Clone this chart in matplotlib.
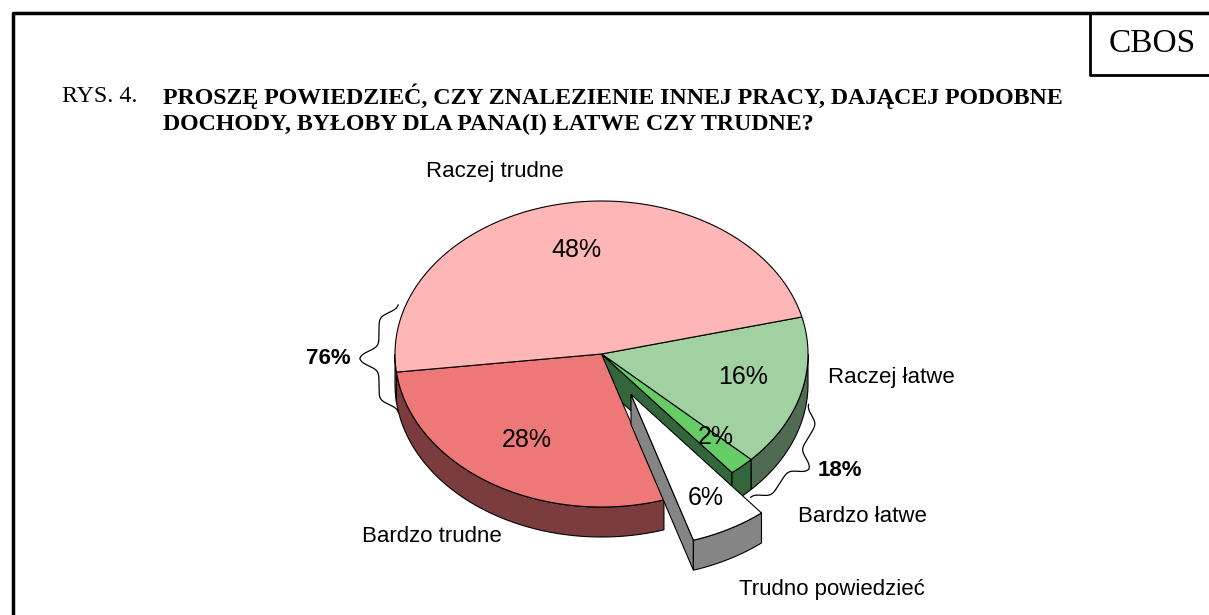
import numpy as np
import matplotlib.pyplot as plt
from matplotlib.patches import Polygon

# dane
labels = ["Raczej łatwe", "Bardzo łatwe", "Trudno powiedzieć", "Bardzo trudne", "Raczej trudne"]
values = [16, 2, 6, 28, 48]
explode = [0, 0, 1, 0, 0]
top_colors = ["#a1d1a1", "#66cc66", "#ffffff", "#ee7777", "#ffb6b6"]
side_colors = ["#4f6b52", "#33663a", "#858585", "#7a3c3c", "#b07878"]
groups = ["76%", "18%"]

title1 = "PROSZĘ POWIEDZIEĆ, CZY ZNALEZIENIE INNEJ PRACY, DAJĄCEJ PODOBNE"
title2 = "DOCHODY, BYŁOBY DLA PANA(I) ŁATWE CZY TRUDNE?"

W, H = 1209, 615
fig = plt.figure(figsize=(W / 100, H / 100), dpi=100)
ax = fig.add_axes([0, 0, 1, 1])
ax.set_xlim(0, W)
ax.set_ylim(H, 0)
ax.axis("off")

# geometria pseudo-3D
cx, cy = 601.5, 354
rx, ry = 206.5, 153
depth = 30
start = 14
ex = 0.30


def pt(t, r, off, z):
    t = np.radians(t)
    return (cx + off[0] + r * rx * np.cos(t), cy + off[1] - r * ry * np.sin(t) + z)


def arc(t1, t2, off, z, n=80):
    ts = np.linspace(t1, t2, n)
    return [pt(t, 1, off, z) for t in ts]


wedges = []
a = start
for i, v in enumerate(values):
    hi = a
    lo = a - v * 3.6
    a = lo
    m = np.radians((hi + lo) / 2)
    off = (ex * rx * np.cos(m), -ex * ry * np.sin(m)) if explode[i] else (0, 0)
    wedges.append((lo, hi, off))

ec = "black"
lw = 0.8


def draw_walls(i):
    lo, hi, off = wedges[i]
    n = len(values)
    # sciany ciecia przy wysunietym kawalku
    for edge, nb, sgn in ((lo, (i + 1) % n, -1), (hi, (i - 1) % n, 1)):
        if explode[i] == explode[nb] and not explode[i]:
            continue
        nrm = np.radians(edge + sgn * 90)
        if np.sin(nrm) >= 0:
            continue
        poly = [pt(0, 0, off, 0), pt(edge, 1, off, 0), pt(edge, 1, off, depth), pt(0, 0, off, depth)]
        ax.add_patch(Polygon(poly, closed=True, fc=side_colors[i], ec=ec, lw=lw))
    # sciana zewnetrzna (tylko przod)
    for k in range(-1, 1):
        v1 = max(lo, -180 + 360 * k)
        v2 = min(hi, 0 + 360 * k)
        if v2 > v1:
            top = arc(v1, v2, off, 0)
            bot = arc(v2, v1, off, depth)
            ax.add_patch(Polygon(top + bot, closed=True, fc=side_colors[i], ec=ec, lw=lw))


def draw_top(i):
    lo, hi, off = wedges[i]
    poly = [pt(0, 0, off, 0)] + arc(lo, hi, off, 0, 200)
    ax.add_patch(Polygon(poly, closed=True, fc=top_colors[i], ec=ec, lw=lw))


main = [i for i in range(len(values)) if not explode[i]]
out = [i for i in range(len(values)) if explode[i]]
for i in main:
    draw_walls(i)
for i in main:
    draw_top(i)
for i in out:
    draw_walls(i)
    draw_top(i)

# etykiety procentowe
sans = "Liberation Sans"
pct_pos = [(743, 377), (716, 437), (706, 498), (527, 440), (576, 250)]
for (x, y), v in zip(pct_pos, values):
    ax.text(x, y, f"{v}%", ha="center", va="center", fontsize=18, family=sans)

lab_pos = [(891, 377), (862, 517), (832, 590), (432, 537), (495, 172)]
for (x, y), s in zip(lab_pos, labels):
    ax.text(x, y, s, ha="center", va="center", fontsize=16, family=sans)


# klamry
def brace(p1, p2, w, nrm):
    p1 = np.array(p1, float)
    p2 = np.array(p2, float)
    nrm = np.array(nrm, float)
    nrm = nrm / np.hypot(*nrm)
    s = np.linspace(0, 1, 300)
    h = np.where(s < 0.5, s, 1 - s)
    sig = lambda x: 1 / (1 + np.exp(-x))
    f = 0.5 * (sig(45 * (h - 0.07)) + sig(45 * (h - 0.43)))
    pts = p1[None, :] + s[:, None] * (p2 - p1)[None, :] + (w * f)[:, None] * nrm[None, :]
    ax.plot(pts[:, 0], pts[:, 1], color="black", lw=0.9)


brace((399, 305), (399, 412), 40, (-1, 0))
brace((808, 404), (750, 497), 36, (0.85, 0.53))
ax.text(328, 358, groups[0], ha="center", va="center", fontsize=16, family=sans, weight="bold")
ax.text(840, 470, groups[1], ha="center", va="center", fontsize=16, family=sans, weight="bold")

# tytul
serif = "Liberation Serif"
ax.text(62, 96, "RYS. 4.", ha="left", va="center", fontsize=17.2, family=serif)
ax.text(163, 96, title1, ha="left", va="center", fontsize=17.2, family=serif, weight="bold")
ax.text(163, 124, title2, ha="left", va="center", fontsize=17.2, family=serif, weight="bold")

# ramki
ax.plot([13, 13, W], [H, 13, 13], color="black", lw=2.5, solid_capstyle="butt")
ax.plot([1090, 1090, W], [13, 75, 75], color="black", lw=2, solid_capstyle="butt")
ax.text(1152, 44, "CBOS", ha="center", va="center", fontsize=24, family=serif)

fig.savefig("out.png", dpi=100)
